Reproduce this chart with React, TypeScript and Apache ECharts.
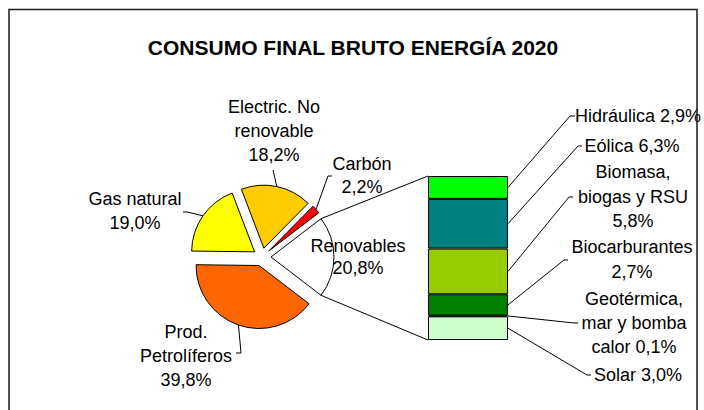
import React, { useEffect, useRef } from "react";
import * as echarts from "echarts";

const TITLE = "CONSUMO FINAL BRUTO ENERGÍA 2020";

// Pie (order drawn clockwise starting with the split-out slice)
const pieNames = ["Renovables", "Prod.\nPetrolíferos", "Gas natural", "Electric. No\nrenovable", "Carbón"];
const pieValues = [20.8, 39.8, 19.0, 18.2, 2.2];
const pieColors = ["#FFFFFF", "#FF6600", "#FFFF00", "#FFCC00", "#FF0000"];

// Stacked bar of the "Renovables" slice (bottom to top)
const barNames = ["Solar", "Geotérmica,\nmar y bomba\ncalor", "Biocarburantes", "Biomasa,\nbiogas y RSU", "Eólica", "Hidráulica"];
const barValues = [3.0, 0.1, 2.7, 5.8, 6.3, 2.9];
const barSeps = [" ", " ", "\n", "\n", " ", " "];
const barColors = ["#CCFFCC", "#33CCCC", "#008000", "#99CC00", "#008080", "#00FF00"];

// Layout
const PIE_CX = 262;
const PIE_CY = 257;
const PIE_R = 63;
const OFFSET = 9;
const BAR_LEFT = 428;
const BAR_TOP = 176;
const BAR_W = 80;
const BAR_H = 164;
const FONT = "'Liberation Sans', Arial, sans-serif";
const LABEL_FONT = `18px ${FONT}`;

// label placement (first-line centre, alignment, leader end points)
const pieLabelLayout = [
  { x: 358, y: 246, lh: 22, line: null },
  { x: 186, y: 332, lh: 24, line: [[241, 353], [236, 353]] },
  { x: 135, y: 199, lh: 24, line: [[187, 212], [183, 212]] },
  { x: 274, y: 107, lh: 24, line: [[273, 170]] },
  { x: 362, y: 164, lh: 23, line: [[328, 176], [332, 176]] },
];
const barLabelLayout = [
  { x: 638, y: 375, lh: 24, line: [[587, 375], [591, 375]] },
  { x: 634, y: 299, lh: 24, line: [[574, 323], [578, 323]] },
  { x: 632, y: 247, lh: 25, line: [[564, 260], [568, 260]] },
  { x: 633, y: 172, lh: 24.5, line: [[569, 197], [573, 197]] },
  { x: 632, y: 146, lh: 24, line: [[578, 146], [582, 146]] },
  { x: 638, y: 116, lh: 24, line: [[570, 116], [575, 116]] },
];

const pct = (v: number) => v.toFixed(1).replace(".", ",") + "%";

export default function App() {
  const ref = useRef<HTMLDivElement>(null);
  useEffect(() => {
    const chart = echarts.init(ref.current!, null, { renderer: "svg" });
    const pieTotal = pieValues.reduce((a, b) => a + b, 0);
    const barTotal = barValues.reduce((a, b) => a + b, 0);
    const startAngle = ((pieValues[0] / pieTotal) * 360) / 2;

    chart.setOption({
      animation: false,
      backgroundColor: "#ffffff",
      grid: { left: BAR_LEFT, top: BAR_TOP, width: BAR_W, height: BAR_H },
      xAxis: { type: "category", data: ["Renovables"], show: false },
      yAxis: { type: "value", min: 0, max: barTotal, show: false },
      series: [
        {
          type: "pie",
          center: [PIE_CX, PIE_CY],
          radius: PIE_R,
          startAngle,
          clockwise: true,
          selectedMode: "multiple",
          selectedOffset: OFFSET,
          label: { show: false },
          labelLine: { show: false },
          emphasis: { disabled: true },
          itemStyle: { borderColor: "#000", borderWidth: 1 },
          select: { itemStyle: { borderColor: "#000", borderWidth: 1 } },
          data: pieNames.map((n, i) => ({
            name: n,
            value: pieValues[i],
            selected: true,
            itemStyle: { color: pieColors[i] },
            select: { itemStyle: { color: pieColors[i], borderColor: "#000", borderWidth: 1 } },
          })),
        },
        ...barNames.map((n, i) => ({
          type: "bar",
          name: n,
          stack: "renov",
          data: [barValues[i]],
          barWidth: "100%",
          barCategoryGap: "0%",
          emphasis: { disabled: true },
          itemStyle: { color: barColors[i], borderColor: "#000", borderWidth: 1 },
        })),
      ],
    });

    const elements: any[] = [];
    const toXY = (deg: number, r: number, cx: number, cy: number) => [
      cx + r * Math.cos((deg * Math.PI) / 180),
      cy - r * Math.sin((deg * Math.PI) / 180),
    ];

    // pie labels + leader lines
    let a = startAngle;
    pieValues.forEach((v, i) => {
      const span = (v / pieTotal) * 360;
      const mid = a - span / 2;
      const L = pieLabelLayout[i];
      const lines = (pieNames[i] + "\n" + pct(v)).split("\n").length;
      elements.push({
        type: "text",
        silent: true,
        style: {
          text: pieNames[i] + "\n" + pct(v),
          x: L.x,
          y: L.y - L.lh / 2,
          align: "center",
          verticalAlign: "top",
          lineHeight: L.lh,
          font: LABEL_FONT,
          fill: "#000",
        },
        z: 50,
      });
      if (L.line) {
        const edge = toXY(mid, PIE_R + OFFSET, PIE_CX, PIE_CY);
        elements.push({
          type: "polyline",
          silent: true,
          shape: { points: [edge, ...L.line] },
          style: { stroke: "#000", lineWidth: 1, fill: "none" },
          z: 50,
        });
      }
      if (i === 0) {
        const vx = PIE_CX + OFFSET * Math.cos((mid * Math.PI) / 180);
        const vy = PIE_CY - OFFSET * Math.sin((mid * Math.PI) / 180);
        const topCorner = toXY(a, PIE_R, vx, vy);
        const botCorner = toXY(a - span, PIE_R, vx, vy);
        const barTopPx = chart.convertToPixel({ xAxisIndex: 0, yAxisIndex: 0 }, [0, barTotal]) as number[];
        const barBotPx = chart.convertToPixel({ xAxisIndex: 0, yAxisIndex: 0 }, [0, 0]) as number[];
        elements.push({
          type: "line",
          silent: true,
          shape: { x1: topCorner[0], y1: topCorner[1], x2: BAR_LEFT, y2: barTopPx[1] },
          style: { stroke: "#000", lineWidth: 1 },
          z: 50,
        });
        elements.push({
          type: "line",
          silent: true,
          shape: { x1: botCorner[0], y1: botCorner[1], x2: BAR_LEFT, y2: barBotPx[1] },
          style: { stroke: "#000", lineWidth: 1 },
          z: 50,
        });
      }
      a -= span;
    });

    // bar labels + leader lines
    let cum = 0;
    barValues.forEach((v, i) => {
      const c = chart.convertToPixel({ xAxisIndex: 0, yAxisIndex: 0 }, [0, cum + v / 2]) as number[];
      cum += v;
      const L = barLabelLayout[i];
      const text = barNames[i] + barSeps[i] + pct(v);
      elements.push({
        type: "text",
        silent: true,
        style: {
          text,
          x: L.x,
          y: L.y - L.lh / 2,
          align: "center",
          verticalAlign: "top",
          lineHeight: L.lh,
          font: LABEL_FONT,
          fill: "#000",
        },
        z: 50,
      });
      elements.push({
        type: "polyline",
        silent: true,
        shape: { points: [[BAR_LEFT + BAR_W, c[1]], ...L.line] },
        style: { stroke: "#000", lineWidth: 1, fill: "none" },
        z: 50,
      });
    });

    // title
    elements.push({
      type: "text",
      silent: true,
      style: {
        text: TITLE,
        x: 353,
        y: 47,
        align: "center",
        verticalAlign: "middle",
        font: `bold 21px ${FONT}`,
        fill: "#000",
      },
      z: 50,
    });

    // chart border
    elements.push({
      type: "rect",
      silent: true,
      shape: { x: 9, y: 9.5, width: 688, height: 420 },
      style: { fill: "none", stroke: "#1a1a1a", lineWidth: 1.5 },
      z: 60,
    });

    chart.setOption({ graphic: { elements } });

    return () => chart.dispose();
  }, []);

  return (
    <div
      ref={ref}
      style={{ position: "fixed", left: 0, top: 0, width: 704, height: 410, background: "#fff" }}
    />
  );
}
